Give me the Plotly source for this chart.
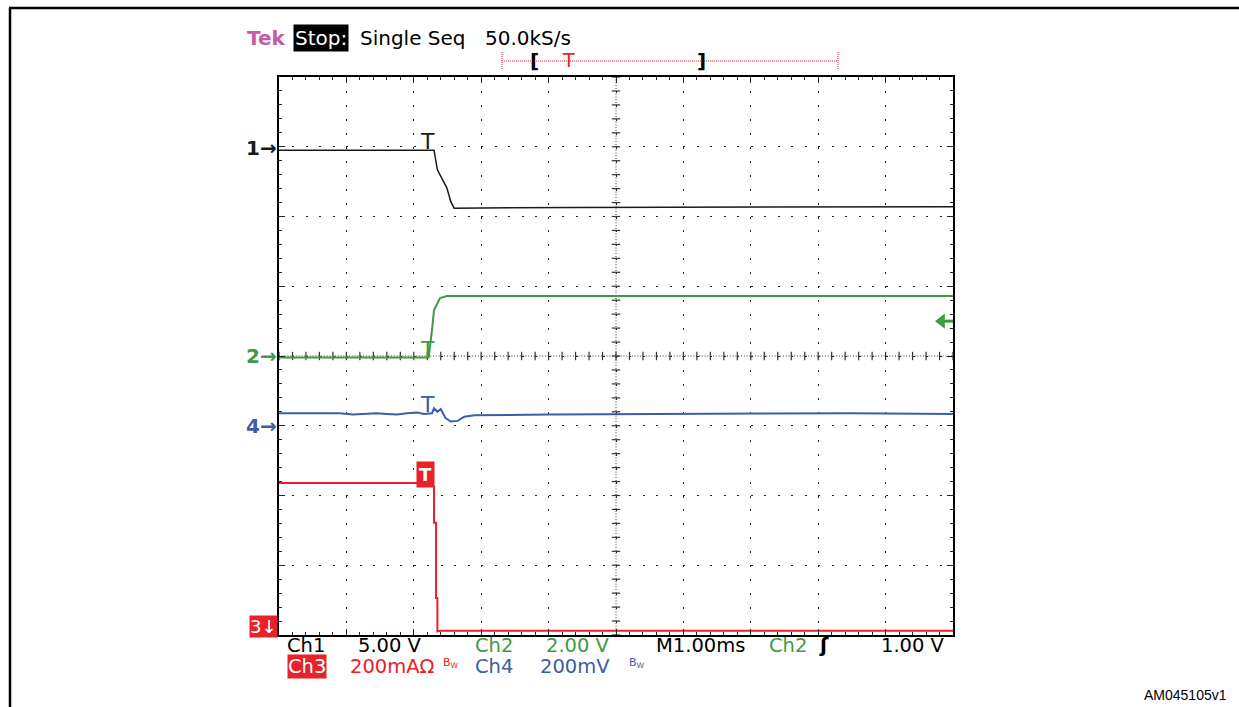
import numpy as np
import plotly.graph_objects as go

# ---- data (screen divisions: x = ms from left edge at 1.00 ms/div, y = divisions from bottom) ----
ch1_t = [0.0, 2.30, 2.35, 2.49, 2.55, 2.60, 4.40, 10.0]
ch1_div = [6.95, 6.95, 6.67, 6.41, 6.21, 6.12, 6.13, 6.14]

ch2_t = [0.0, 2.22, 2.27, 2.30, 2.39, 2.49, 10.0]
ch2_div = [3.98, 3.98, 4.37, 4.66, 4.83, 4.86, 4.86]

ch3_t = [0.0, 2.27, 2.30, 2.30, 2.33, 2.33, 2.35, 2.35, 2.39, 10.0]
ch3_div = [2.18, 2.18, 2.12, 1.61, 1.61, 0.53, 0.53, 0.05, 0.06, 0.06]

ch4_t = [0.0, 0.35, 0.5, 0.7, 0.9, 1.1, 1.3, 1.45, 1.6, 1.75, 1.9, 2.05, 2.15, 2.22,
         2.27, 2.30, 2.35, 2.40, 2.47, 2.55, 2.65, 2.75, 2.90, 4.0, 5.5, 7.0, 8.5, 10.0]
ch4_div = [3.18, 3.18, 3.17, 3.18, 3.18, 3.16, 3.17, 3.18, 3.17, 3.16, 3.18, 3.19, 3.17, 3.18,
           3.18, 3.25, 3.20, 3.24, 3.11, 3.06, 3.07, 3.13, 3.15, 3.16, 3.17, 3.17, 3.18, 3.17]

trig_t = 2.21
trig_level = 4.5

header = ["Tek", "Stop:", "Single Seq", "50.0kS/s"]
row1 = ["Ch1", "5.00 V", "Ch2", "2.00 V", "M1.00ms", "Ch2", "1.00 V"]
row2 = ["Ch3", "200mAΩ", "Ch4", "200mV"]

# ---- styles ----
BLACK = "#1a1a1a"
GREEN = "#3f9a45"
BLUE = "#3d5caa"
RED = "#e8212b"
PINK = "#c35ca8"
FONT = "DejaVu Sans, sans-serif"

W, H = 1239, 707
L, R, T, B = 279, 953, 77, 635


def px(x):
    return (x - L) / (R - L)


def py(y):
    return (B - y) / (B - T)


fig = go.Figure()

# center lines with tick marks
minor_x = np.arange(0, 10.001, 0.2)
minor_y = np.arange(0, 8.001, 0.2)
fig.add_shape(type="line", xref="x", yref="y", x0=5, x1=5, y0=0, y1=8,
              line=dict(color="#333", width=1, dash="1px,1.8px"), layer="below")
fig.add_shape(type="line", xref="x", yref="y", x0=0, x1=10, y0=4, y1=4,
              line=dict(color="#333", width=1, dash="1px,1.8px"), layer="below")
fig.add_trace(go.Scatter(x=minor_x, y=[4] * len(minor_x), mode="markers",
                         marker=dict(symbol="line-ns", size=6, line=dict(color="#333", width=1.2)),
                         hoverinfo="skip", showlegend=False))
fig.add_trace(go.Scatter(x=[5] * len(minor_y), y=minor_y, mode="markers",
                         marker=dict(symbol="line-ew", size=6, line=dict(color="#333", width=1.2)),
                         hoverinfo="skip", showlegend=False))

for t, v, c, w in [(ch1_t, ch1_div, BLACK, 1.5), (ch2_t, ch2_div, GREEN, 2),
                   (ch4_t, ch4_div, BLUE, 2), (ch3_t, ch3_div, RED, 2)]:
    fig.add_trace(go.Scatter(x=t, y=v, mode="lines", line=dict(color=c, width=w),
                             hoverinfo="skip", showlegend=False))

# trigger level marker (right)
fig.add_trace(go.Scatter(x=[9.83], y=[trig_level], mode="markers",
                         marker=dict(symbol="triangle-left", size=13, color=GREEN),
                         hoverinfo="skip", showlegend=False, cliponaxis=False))
fig.add_shape(type="line", xref="x", yref="y", x0=9.85, x1=10, y0=trig_level, y1=trig_level,
              line=dict(color=GREEN, width=3))

ann = []


def text(x, y, s, color="black", size=19.5, xanchor="left", yanchor="middle", bg=None, ref="paper",
         bold=False, font=FONT, pad=0):
    if bold:
        s = "<b>" + s + "</b>"
    d = dict(x=x, y=y, xref=ref, yref=ref, text=s, showarrow=False, xanchor=xanchor, yanchor=yanchor,
             font=dict(family=font, size=size, color=color), borderpad=pad)
    if bg:
        d["bgcolor"] = bg
    ann.append(d)


# trigger T marks (data coordinates)
for yy, col in [(7.07, BLACK), (4.09, GREEN), (3.30, BLUE)]:
    text(trig_t, yy, "T", col, 22, "center", ref="x")
    ann[-1]["yref"] = "y"
text(trig_t - 0.03, 2.30, "T", "white", 18, "center", ref="x", bold=True, bg=RED, pad=2)
ann[-1]["yref"] = "y"

# channel ground markers
text(px(278), py(148), "1→", BLACK, 20, "right", bold=True)
text(px(278), py(356), "2→", GREEN, 20, "right", bold=True)
text(px(278), py(426), "4→", BLUE, 20, "right", bold=True)
text(px(278), py(626), "3↓", "white", 18, "right", bg=RED)

# header
text(px(246), py(38), header[0], PINK, 20, bold=True)
text(px(293), py(38), header[1], "white", 20, bg="black", pad=1)
text(px(359), py(38), header[2], "black", 20)
text(px(484), py(38), header[3], "black", 20)

# record bar
fig.add_shape(type="line", xref="paper", yref="paper", x0=px(502), x1=px(838), y0=py(61), y1=py(61),
              line=dict(color=RED, width=1, dash="1px,1px"))
for xx in (502, 838):
    fig.add_shape(type="line", xref="paper", yref="paper", x0=px(xx), x1=px(xx), y0=py(52), y1=py(70),
                  line=dict(color=RED, width=1, dash="1px,1px"))
text(px(534), py(61), "[", "black", 20, "center", bold=True)
text(px(568), py(60), "T", RED, 19, "center")
text(px(701), py(61), "]", "black", 20, "center", bold=True)

# bottom readouts
y1, y2 = py(645), py(666)
text(px(286), y1, row1[0], "black")
text(px(357), y1, row1[1], "black")
text(px(474), y1, row1[2], GREEN)
text(px(545), y1, row1[3], GREEN)
text(px(655), y1, row1[4], "black")
text(px(768), y1, row1[5], GREEN)
text(px(824), y1, "ʃ", "black", 20, "center", bold=True)
text(px(880), y1, row1[6], "black")
text(px(287), y2, row2[0], "white", bg=RED)
text(px(349), y2, row2[1], RED)
text(px(442), py(663), "B<sub>W</sub>", RED, 11)
text(px(474), y2, row2[2], BLUE)
text(px(539), y2, row2[3], BLUE)
text(px(628), py(663), "B<sub>W</sub>", BLUE, 11)

# figure id
text(px(1228), py(695), "AM045105v1", "black", 14, "right", font="Liberation Sans, Arial, sans-serif")

# outer frame
fig.add_shape(type="line", xref="paper", yref="paper", x0=px(10), x1=px(10), y0=py(8), y1=py(710),
              line=dict(color="black", width=2.5))
fig.add_shape(type="line", xref="paper", yref="paper", x0=px(9), x1=px(1245), y0=py(8), y1=py(8),
              line=dict(color="black", width=2.5))

axis_common = dict(showticklabels=False, showline=True, linecolor="black", linewidth=2, mirror="ticks",
                   zeroline=False, ticks="inside", ticklen=6, tickwidth=1, tickcolor="#222",
                   showgrid=True, gridcolor="#222", gridwidth=1.3, fixedrange=True)
fig.update_xaxes(range=[0, 10], dtick=1, tick0=0, griddash="2px,11.95px",
                 minor=dict(dtick=0.2, ticks="inside", ticklen=3, tickcolor="#222", showgrid=False),
                 **axis_common)
fig.update_yaxes(range=[0, 8], dtick=1, tick0=0, griddash="2px,11.48px",
                 minor=dict(dtick=0.2, ticks="inside", ticklen=3, tickcolor="#222", showgrid=False),
                 **axis_common)

fig.update_layout(width=W, height=H, margin=dict(l=L, r=W - R, t=T, b=H - B, pad=0),
                  plot_bgcolor="white", paper_bgcolor="white", annotations=ann, showlegend=False)

fig.write_html("out.html", config={"displayModeBar": False},
               post_script="document.body.style.margin='0px';")
